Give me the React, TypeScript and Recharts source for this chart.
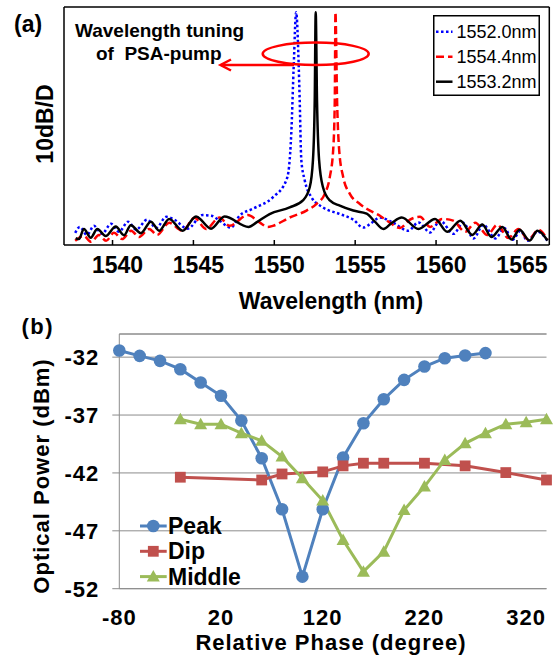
import React from "react";
import { LineChart, Line, XAxis, YAxis, CartesianGrid, Legend, ReferenceLine } from "recharts";

// (a) spectra: wavelength in nm, level above the frame bottom in dB (10 dB per division)
const wl1552 = [1537.69, 1537.98, 1538.42, 1538.85, 1539.35, 1539.91, 1540.4, 1540.96, 1541.46, 1542.14, 1542.7, 1543.32, 1543.82, 1544.64, 1545.57, 1546.11, 1546.61, 1547.33, 1547.85, 1548.67, 1549.91, 1550.74, 1550.91, 1551.05, 1551.2, 1551.35, 1551.51, 1551.57, 1551.67, 1551.88, 1552.3, 1553.01, 1554.05, 1554.88, 1555.5, 1555.91, 1556.53, 1557.34, 1558.29, 1558.91, 1559.63, 1560.25, 1561.08, 1561.68, 1562.32, 1562.92, 1563.67, 1564.22, 1564.72, 1565.22, 1565.65, 1566.27, 1566.89];
const lv1552 = [3.5, 5.2, 2.9, 5.5, 3.2, 6.1, 3.8, 6.7, 4.4, 7.3, 4.9, 8.1, 7.3, 4.7, 8.6, 8.4, 7.0, 5.0, 8.4, 10.4, 13.7, 18.6, 22.4, 32.1, 51.4, 66.9, 51.4, 41.7, 24.4, 18.6, 13.7, 10.8, 8.9, 7.3, 5.0, 6.0, 7.9, 6.4, 4.1, 6.5, 3.6, 7.0, 3.2, 6.4, 1.9, 5.8, 1.9, 4.9, 1.5, 4.1, 1.2, 3.8, 1.2];

const wl1554 = [1537.69, 1538.23, 1538.67, 1539.16, 1539.6, 1540.09, 1540.59, 1541.15, 1541.64, 1542.26, 1542.76, 1543.5, 1544.33, 1545.06, 1545.78, 1546.61, 1547.23, 1548.36, 1549.09, 1549.6, 1549.91, 1550.95, 1551.99, 1552.61, 1553.12, 1553.43, 1553.64, 1553.74, 1553.78, 1553.88, 1554.01, 1554.26, 1554.67, 1555.29, 1555.71, 1556.53, 1557.15, 1557.77, 1558.39, 1559.01, 1559.63, 1560.38, 1561.06, 1561.8, 1562.42, 1563.17, 1563.79, 1564.47, 1565.09, 1565.71, 1566.33, 1566.89];
const lv1554 = [1.2, 2.6, 0.9, 2.9, 1.2, 3.5, 1.7, 4.1, 2.3, 4.6, 2.9, 6.4, 4.1, 7.8, 4.6, 7.9, 5.5, 8.6, 6.5, 5.2, 5.5, 7.9, 9.9, 11.8, 14.7, 19.5, 27.3, 41.7, 66.9, 41.7, 27.3, 19.5, 14.7, 11.8, 10.4, 8.4, 6.4, 4.9, 7.3, 8.1, 5.2, 7.5, 7.0, 3.8, 6.4, 2.9, 5.8, 2.0, 4.6, 1.5, 4.4, 1.5];

const wl1553 = [1537.72, 1537.92, 1538.23, 1538.65, 1539.06, 1539.58, 1540.2, 1540.71, 1541.13, 1541.75, 1542.37, 1542.88, 1543.5, 1544.33, 1545.16, 1546.09, 1546.92, 1548.41, 1548.9, 1549.71, 1550.95, 1551.77, 1552.19, 1552.39, 1552.5, 1552.56, 1552.64, 1552.77, 1553.01, 1553.43, 1554.05, 1554.88, 1555.71, 1556.22, 1556.74, 1557.28, 1557.88, 1558.91, 1559.94, 1560.69, 1561.5, 1562.24, 1562.86, 1563.42, 1564.1, 1564.66, 1565.16, 1565.78, 1566.27, 1566.89];
const lv1553 = [2.0, 1.7, 4.6, 2.1, 4.6, 2.6, 5.3, 2.8, 5.7, 3.4, 6.7, 4.1, 7.5, 4.1, 8.2, 4.7, 8.2, 5.2, 6.5, 8.9, 10.8, 12.8, 16.6, 24.4, 41.7, 66.9, 41.7, 24.4, 16.6, 12.8, 11.3, 9.9, 9.0, 6.7, 4.6, 6.4, 7.9, 4.6, 7.5, 3.8, 7.0, 2.9, 5.9, 2.3, 5.2, 1.6, 4.4, 1.3, 4.1, 1.3];

const specNames = ["1552.0nm", "1554.4nm", "1553.2nm"];
const wlTicks = [1540, 1545, 1550, 1555, 1560, 1565];
const divTicks = [3.5, 13.5, 23.5, 33.5, 43.5, 53.5, 63.5];

// (b) optical power (dBm) against relative phase (degree)
const peakPhase = [-80, -60, -40, -20, 0, 20, 40, 60, 80, 100, 120, 140, 160, 180, 200, 220, 240, 260, 280];
const peakPower = [-31.43, -31.89, -32.32, -33.04, -34.19, -35.34, -37.48, -40.73, -45.14, -50.96, -45.14, -40.67, -37.71, -35.63, -33.96, -32.81, -32.09, -31.86, -31.65];
const dipPhase = [-20, 60, 80, 120, 140, 160, 180, 220, 260, 300, 340];
const dipPower = [-42.37, -42.61, -42.09, -41.91, -41.39, -41.16, -41.16, -41.16, -41.39, -41.97, -42.61];
const midPhase = [-20, 0, 20, 40, 60, 80, 100, 120, 140, 160, 180, 200, 220, 240, 260, 280, 300, 320, 340];
const midPower = [-37.36, -37.79, -37.79, -38.57, -39.23, -40.59, -42.46, -44.39, -47.79, -50.53, -48.8, -45.2, -43.18, -40.88, -39.44, -38.57, -37.79, -37.62, -37.36];
const phaseTicks = [-80, 20, 120, 220, 320];
const powerTicks = [-52, -47, -42, -37, -32];
const traceNames = ["Peak", "Dip", "Middle"];

const ARIAL = "'Liberation Sans', Arial, sans-serif";
const GRAY = "#8c8c8c";
const BLUE = "#4F81BD";
const RED = "#C0504D";
const GREEN = "#9BBB59";

const zip = (xs: number[], ys: number[]) => xs.map((x, i) => ({ x, y: ys[i] }));

const specStyles = [
  { color: "#0000ff", dash: "2.5 2.5" },
  { color: "#ff0000", dash: "8 4" },
  { color: "#000000", dash: undefined },
];

const WlTick = (props: any) => (
  <text x={props.x + 5} y={273} textAnchor="middle" fontFamily={ARIAL} fontSize={23} fontWeight="bold" fill="#000">
    {props.payload.value}
  </text>
);

const SpecLegend = () => (
  <svg width={107} height={81} style={{ display: "block" }}>
    <rect x={0.75} y={0.75} width={105.5} height={79.5} fill="#fff" stroke="#000" strokeWidth={1.5} />
    {specNames.map((name, i) => {
      const cy = 16.7 + i * 25;
      return (
        <g key={name}>
          <line x1={3} x2={19.5} y1={cy} y2={cy} stroke={specStyles[i].color} strokeWidth={2.5} strokeDasharray={specStyles[i].dash} />
          <text x={23.5} y={cy} dominantBaseline="central" fontFamily={ARIAL} fontSize={18} fill="#000">
            {name}
          </text>
        </g>
      );
    })}
  </svg>
);

const square = (color: string) => (p: any) => (
  <rect key={`sq${p.index}`} x={p.cx - 5.4} y={p.cy - 5.4} width={10.8} height={10.8} fill={color} />
);
const triangle = (color: string) => (p: any) => (
  <polygon key={`tr${p.index}`} points={`${p.cx},${p.cy - 6.5} ${p.cx + 6.5},${p.cy + 5} ${p.cx - 6.5},${p.cy + 5}`} fill={color} />
);

const marker = (i: number, cx: number, cy: number) => {
  if (i === 0) return <circle cx={cx} cy={cy} r={6.3} fill={BLUE} />;
  if (i === 1) return <rect x={cx - 5.4} y={cy - 5.4} width={10.8} height={10.8} fill={RED} />;
  return <polygon points={`${cx},${cy - 6.5} ${cx + 6.5},${cy + 5} ${cx - 6.5},${cy + 5}`} fill={GREEN} />;
};

const TraceLegend = () => (
  <svg width={150} height={80} style={{ display: "block" }}>
    {traceNames.map((name, i) => {
      const cy = 13 + i * 25.3;
      const color = [BLUE, RED, GREEN][i];
      return (
        <g key={name}>
          <line x1={5} x2={31.7} y1={cy} y2={cy} stroke={color} strokeWidth={3} />
          {marker(i, 18.3, cy)}
          <text x={33} y={cy} dominantBaseline="central" fontFamily={ARIAL} fontSize={23} fontWeight="bold" fill="#000">
            {name}
          </text>
        </g>
      );
    })}
  </svg>
);

const bTick = { fontFamily: ARIAL, fontSize: 22, fontWeight: 700, fill: "#000", letterSpacing: 1 };

export default function App() {
  const frame = { stroke: "#000", strokeWidth: 1.5 };
  return (
    <div style={{ position: "absolute", left: 0, top: 0, width: 556, height: 656, background: "#fff", overflow: "hidden" }}>
      <div style={{ position: "absolute", left: 0, top: 0 }}>
        <LineChart width={556} height={310} margin={{ top: 7, right: 6.7, bottom: 65, left: 64 }}>
          <XAxis xAxisId={0} dataKey="x" type="number" domain={[1537, 1567]} ticks={wlTicks} interval={0} allowDataOverflow
            orientation="bottom" mirror height={1} tickSize={5} axisLine={frame} tickLine={frame} tick={<WlTick />} />
          <XAxis xAxisId="top" type="number" domain={[1537, 1567]} ticks={wlTicks} interval={0} allowDataOverflow
            orientation="top" mirror height={1} tickSize={5} axisLine={frame} tickLine={frame} tick={false} />
          <YAxis yAxisId={0} type="number" domain={[0, 68.4]} ticks={divTicks} interval={0} allowDataOverflow
            mirror width={1} tickSize={5} axisLine={frame} tickLine={frame} tick={false} />
          <YAxis yAxisId="right" orientation="right" type="number" domain={[0, 68.4]} ticks={divTicks} interval={0} allowDataOverflow
            mirror width={1} tickSize={5} axisLine={frame} tickLine={frame} tick={false} />
          <Legend layout="vertical" align="center" verticalAlign="middle" wrapperStyle={{ left: 433, top: 15, width: "auto" }} content={<SpecLegend />} />
          <Line data={zip(wl1552, lv1552)} dataKey="y" type="monotone" stroke="#0000ff" strokeWidth={2.5} strokeDasharray="2.5 2.5" dot={false} isAnimationActive={false} />
          <Line data={zip(wl1554, lv1554)} dataKey="y" type="monotone" stroke="#ff0000" strokeWidth={2.5} strokeDasharray="8 4" dot={false} isAnimationActive={false} />
          <Line data={zip(wl1553, lv1553)} dataKey="y" type="monotone" stroke="#000000" strokeWidth={2.5} dot={false} isAnimationActive={false} />
        </LineChart>
      </div>

      <div style={{ position: "absolute", left: 0, top: 310 }}>
        <LineChart width={556} height={346} margin={{ top: 24, right: 9.5, bottom: 0, left: 0 }}>
          <CartesianGrid vertical={false} stroke={GRAY} />
          <ReferenceLine y={-30} stroke={GRAY} />
          <XAxis dataKey="x" type="number" domain={[-80, 340]} ticks={phaseTicks} interval={0} height={67.3}
            tickLine={false} tickSize={0} tickMargin={21} axisLine={{ stroke: GRAY }} tick={bTick} />
          <YAxis type="number" domain={[-52, -30]} ticks={powerTicks} interval={0} width={119.3}
            tickSize={7} tickMargin={13} axisLine={{ stroke: GRAY }} tickLine={{ stroke: GRAY }} tick={bTick} />
          <Legend layout="vertical" align="center" verticalAlign="middle" wrapperStyle={{ left: 135, top: 203, width: "auto" }} content={<TraceLegend />} />
          <Line data={zip(peakPhase, peakPower)} dataKey="y" type="linear" stroke={BLUE} strokeWidth={3}
            dot={{ r: 6.3, fill: BLUE, stroke: BLUE, strokeWidth: 0 }} isAnimationActive={false} />
          <Line data={zip(dipPhase, dipPower)} dataKey="y" type="linear" stroke={RED} strokeWidth={3}
            dot={square(RED)} isAnimationActive={false} />
          <Line data={zip(midPhase, midPower)} dataKey="y" type="linear" stroke={GREEN} strokeWidth={3}
            dot={triangle(GREEN)} isAnimationActive={false} />
        </LineChart>
      </div>

      <svg width={556} height={656} style={{ position: "absolute", left: 0, top: 0, pointerEvents: "none" }}>
        <g fontFamily={ARIAL} fontWeight="bold" fill="#000">
          <text x={14} y={32} fontSize={23}>(a)</text>
          <text transform="translate(52.5,124) rotate(-90)" textAnchor="middle" fontSize={23}>10dB/D</text>
          <text x={331} y={309} textAnchor="middle" fontSize={23}>Wavelength (nm)</text>
          <text x={159.6} y={37} textAnchor="middle" fontSize={19}>Wavelength tuning</text>
          <text x={158.7} y={60} textAnchor="middle" fontSize={19} style={{ whiteSpace: "pre" }}>of  PSA-pump</text>
          <text x={21.5} y={333.5} fontSize={22} letterSpacing={1.5}>(b)</text>
          <text transform="translate(48.5,476) rotate(-90)" textAnchor="middle" fontSize={22} letterSpacing={1}>Optical Power (dBm)</text>
          <text x={331} y={650} textAnchor="middle" fontSize={22} letterSpacing={1}>Relative Phase (degree)</text>
        </g>
        <ellipse cx={315.7} cy={53.8} rx={53} ry={11.2} fill="none" stroke="#ff0000" strokeWidth={2.5} />
        <line x1={294} y1={65} x2={221} y2={65} stroke="#ff0000" strokeWidth={2.5} />
        <polyline points="231,59.5 220.5,65 231,70.5" fill="none" stroke="#ff0000" strokeWidth={2.5} />
      </svg>
    </div>
  );
}
